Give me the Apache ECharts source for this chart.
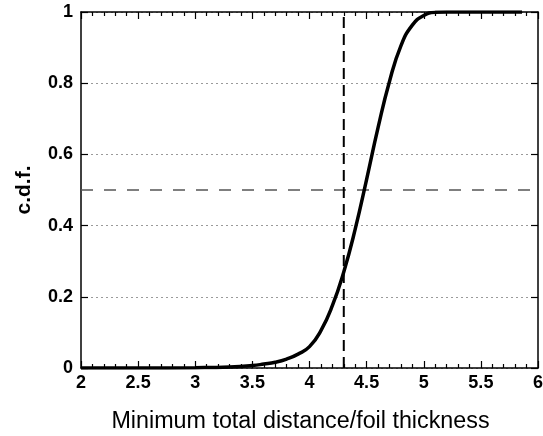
<!DOCTYPE html>
<html>
<head>
<meta charset="utf-8">
<script src="https://cdn.jsdelivr.net/npm/echarts@6/dist/echarts.min.js"></script>
<style>html,body{margin:0;padding:0;background:#fff;}#c{width:543px;height:436px;}</style>
</head>
<body>
<div id="c"></div>
<script>
const cdfX = [2.0, 2.5, 3.0, 3.3, 3.5, 3.6, 3.7, 3.8, 3.9, 4.0, 4.1, 4.2, 4.3, 4.4, 4.5, 4.6, 4.7, 4.8, 4.9, 5.0, 5.1, 5.2, 5.4, 5.6, 5.86];
const cdfY = [0.0, 0.0, 0.001, 0.003, 0.007, 0.011, 0.016, 0.025, 0.039, 0.06, 0.105, 0.175, 0.27, 0.39, 0.53, 0.675, 0.805, 0.905, 0.963, 0.99, 0.999, 1.0, 1.0, 1.0, 1.0];
const vLineX = 4.3;
const hLineY = 0.5;
const xTicks = [2, 2.5, 3, 3.5, 4, 4.5, 5, 5.5, 6];
const yTicks = [0, 0.2, 0.4, 0.6, 0.8, 1];

const font = 'Liberation Sans, Arial, Helvetica, sans-serif';
const chart = echarts.init(document.getElementById('c'), null, {renderer: 'canvas'});
const axisLine = {show: true, onZero: false, lineStyle: {color: '#000', width: 1.5}};
const tick = {show: true, inside: true, length: 7, lineStyle: {color: '#000', width: 1.2}};
const minor = {show: true, splitNumber: 5, length: 4, lineStyle: {color: '#000', width: 1.2}};
chart.setOption({
  animation: false,
  backgroundColor: '#fff',
  grid: {left: 81, right: 5, top: 12, bottom: 68, containLabel: false, outerBoundsMode: 'none'},
  xAxis: [{
    type: 'value', min: xTicks[0], max: xTicks[xTicks.length - 1], interval: 0.5,
    name: 'Minimum total distance/foil thickness', nameLocation: 'middle', nameGap: 42,
    nameTextStyle: {fontFamily: font, fontSize: 23.3, color: '#000', padding: [0, 18, 0, 0]},
    axisLine: axisLine, axisTick: tick, minorTick: minor,
    axisLabel: {fontFamily: font, fontSize: 18, fontWeight: 'bold', color: '#000', margin: 6},
    splitLine: {show: false}
  }, {
    type: 'value', position: 'top', min: xTicks[0], max: xTicks[xTicks.length - 1], interval: 0.5,
    axisLine: axisLine, axisTick: tick, minorTick: minor,
    axisLabel: {show: false}, splitLine: {show: false}
  }],
  yAxis: [{
    type: 'value', min: yTicks[0], max: yTicks[yTicks.length - 1], interval: 0.2,
    name: 'c.d.f.', nameLocation: 'middle', nameGap: 46,
    nameTextStyle: {fontFamily: font, fontSize: 21, fontWeight: 'bold', color: '#000'},
    axisLine: axisLine, axisTick: tick,
    axisLabel: {fontFamily: font, fontSize: 18, fontWeight: 'bold', color: '#000', margin: 8},
    splitLine: {show: true, lineStyle: {color: '#9a9a9a', width: 1.2, type: [2, 3]}}
  }, {
    type: 'value', position: 'right', min: yTicks[0], max: yTicks[yTicks.length - 1], interval: 0.2,
    axisLine: axisLine, axisTick: tick,
    axisLabel: {show: false}, splitLine: {show: false}
  }],
  series: [{
    type: 'line', name: 'hline', xAxisIndex: 0, yAxisIndex: 0, symbol: 'none',
    data: [[xTicks[0], hLineY], [xTicks[xTicks.length - 1], hLineY]],
    lineStyle: {color: '#555', width: 1.6, type: [12, 11]}, z: 3
  }, {
    type: 'line', name: 'vline', xAxisIndex: 0, yAxisIndex: 0, symbol: 'none',
    data: [[vLineX, yTicks[0]], [vLineX, yTicks[yTicks.length - 1]]],
    lineStyle: {color: '#000', width: 2, type: [11, 6]}, z: 3
  }, {
    type: 'line', name: 'cdf', xAxisIndex: 0, yAxisIndex: 0, symbol: 'none',
    smooth: 0.5,
    data: cdfX.map((x, i) => [x, cdfY[i]]),
    lineStyle: {color: '#000', width: 3.5}, z: 4
  }]
});
</script>
</body>
</html>
